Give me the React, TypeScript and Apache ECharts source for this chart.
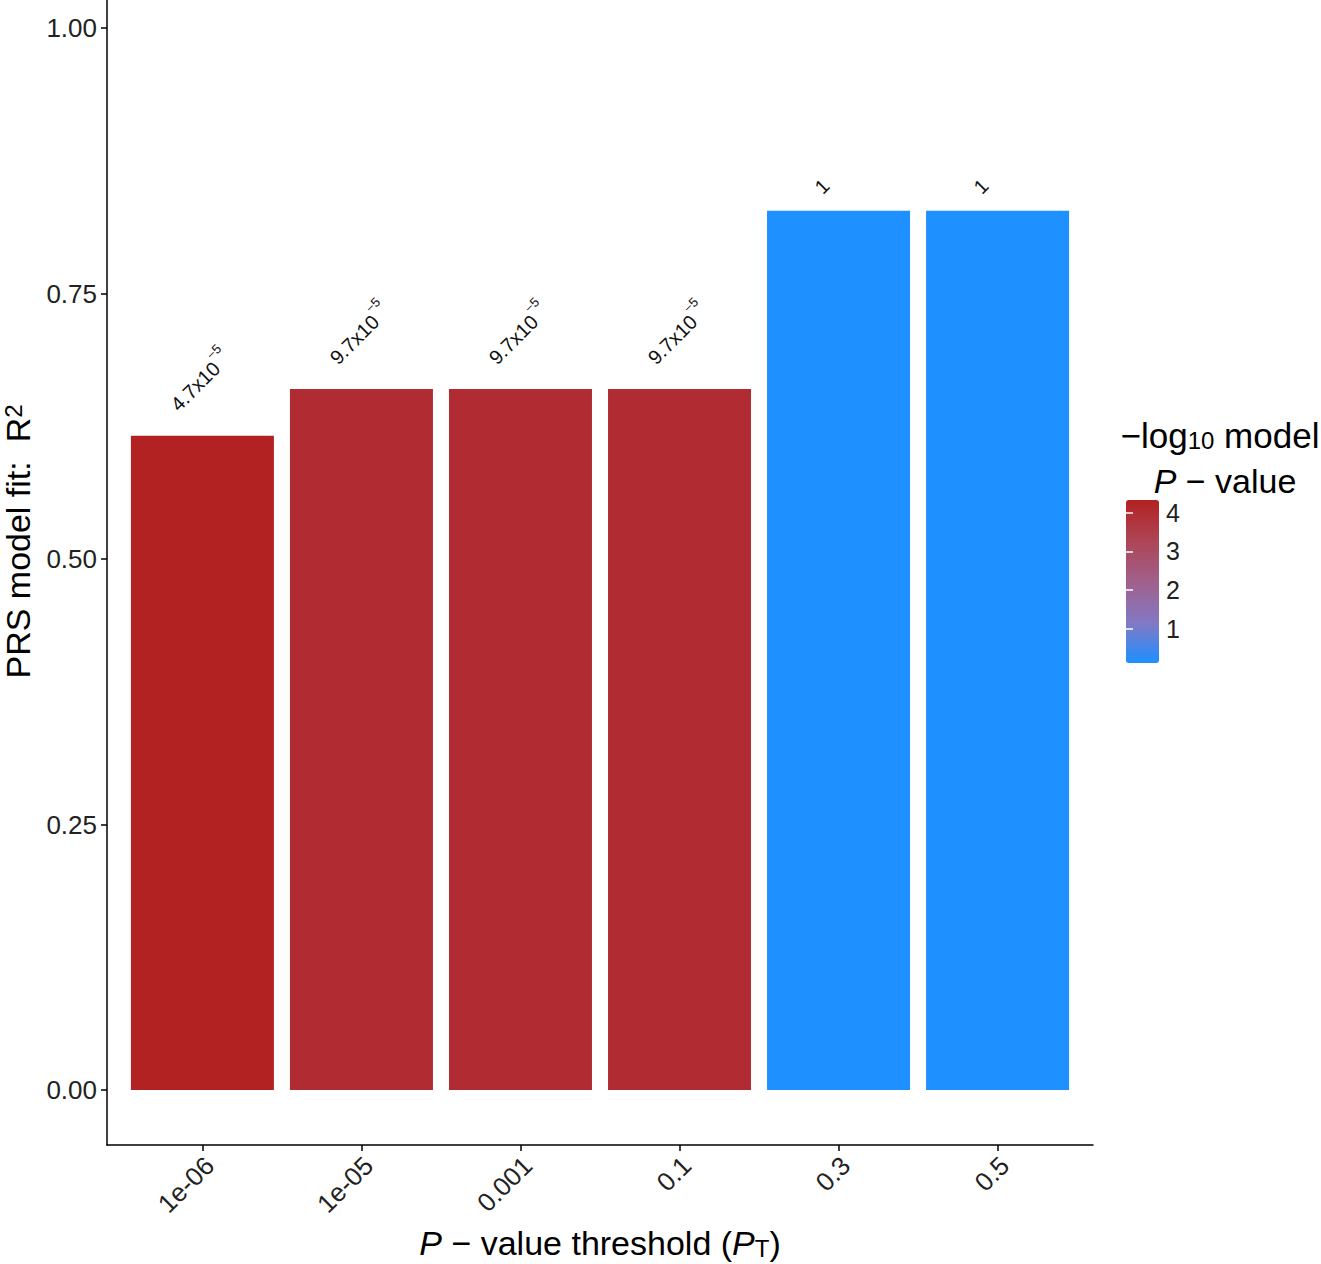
import React, { useEffect, useRef } from "react";
import * as echarts from "echarts";

// ---- data ----
const thresholds = ["1e-06", "1e-05", "0.001", "0.1", "0.3", "0.5"];
const r2Values = [0.616, 0.66, 0.66, 0.66, 0.828, 0.828];
const negLog10P = [4.328, 4.013, 4.013, 4.013, 0.12, 0.12];
const pMantissa = ["4.7x10", "9.7x10", "9.7x10", "9.7x10", "1", "1"];
const pExponent = ["\u22125", "\u22125", "\u22125", "\u22125", "", ""];
const yTicks = [0, 0.25, 0.5, 0.75, 1];
const legendTicks = [1, 2, 3, 4];
const gradientColors = ["#1E90FF", "#8378C4", "#A1608B", "#AE4556", "#B22222"];

const FONT = "'Liberation Sans', Arial, Helvetica, sans-serif";
const positions = thresholds.map((_, i) => i + 1);

export default function App() {
  const ref = useRef<HTMLDivElement>(null);

  useEffect(() => {
    if (!ref.current) return;
    const chart = echarts.init(ref.current, undefined, { renderer: "svg" });

    const barData = thresholds.map((_, i) => ({
      value: [positions[i], r2Values[i], negLog10P[i]],
      label: { offset: [0, pExponent[i] ? -30 : -19] },
    }));

    const option: any = {
      animation: false,
      backgroundColor: "#ffffff",
      textStyle: { fontFamily: FONT },
      grid: [
        { left: 107, top: 0, width: 986, height: 1145, outerBoundsMode: "none", containLabel: false },
        { left: 1126, top: 500, width: 33, height: 163, outerBoundsMode: "none", containLabel: false },
      ],
      xAxis: [
        {
          type: "value",
          gridIndex: 0,
          min: 0.4,
          max: 6.6,
          splitLine: { show: false },
          axisLine: { show: true, onZero: false, lineStyle: { color: "#000", width: 1.5 } },
          axisTick: { show: true, customValues: positions, length: 6, lineStyle: { color: "#000", width: 1.5 } },
          axisLabel: {
            customValues: positions,
            rotate: 45,
            formatter: (v: number) => `{t|${thresholds[Math.round(v) - 1] ?? ""}}`,
            fontSize: 26,
            fontFamily: FONT,
            color: "#222",
            margin: 9,
            rich: {
              t: { fontSize: 26, lineHeight: 26, padding: [20, 0, 0, 0], fontFamily: FONT, color: "#222" },
            },
          },
          name: "{i|P}{n| \u2212 value threshold (}{i|P}{sub|T}{n|)}",
          nameLocation: "middle",
          nameGap: 81,
          nameTextStyle: {
            fontSize: 34,
            fontFamily: FONT,
            color: "#000",
            lineHeight: 34,
            rich: {
              n: { fontSize: 34, lineHeight: 34, fontFamily: FONT, color: "#000" },
              i: { fontSize: 34, lineHeight: 34, fontStyle: "italic", fontFamily: FONT, color: "#000" },
              sub: { fontSize: 24, lineHeight: 6, verticalAlign: "bottom", fontFamily: FONT, color: "#000" },
            },
          },
        },
        { type: "value", gridIndex: 1, show: false, min: 0, max: 1 },
      ],
      yAxis: [
        {
          type: "value",
          gridIndex: 0,
          min: -0.0518,
          max: 1.0264,
          splitLine: { show: false },
          axisLine: { show: true, onZero: false, lineStyle: { color: "#000", width: 1.5 } },
          axisTick: { show: true, customValues: yTicks, length: 6, lineStyle: { color: "#000", width: 1.5 } },
          axisLabel: {
            customValues: yTicks,
            formatter: (v: number) => v.toFixed(2),
            fontSize: 26,
            fontFamily: FONT,
            color: "#222",
            margin: 10,
          },
          name: "{n|PRS model fit:  R}{sup|2}",
          nameLocation: "middle",
          nameGap: 65,
          nameTextStyle: {
            fontSize: 34,
            fontFamily: FONT,
            color: "#000",
            lineHeight: 34,
            padding: [0, 0, 0, 62],
            rich: {
              n: { fontSize: 34, lineHeight: 34, fontFamily: FONT, color: "#000" },
              sup: { fontSize: 24, lineHeight: 6, verticalAlign: "top", fontFamily: FONT, color: "#000" },
            },
          },
        },
        {
          type: "value",
          gridIndex: 1,
          min: 0.12,
          max: 4.328,
          position: "right",
          z: 10,
          splitLine: { show: false },
          axisLine: { show: false },
          axisTick: { show: true, inside: true, length: 7, customValues: legendTicks, lineStyle: { color: "#fff", width: 1.5 } },
          axisLabel: { customValues: legendTicks, fontSize: 25, fontFamily: FONT, color: "#222", margin: 7 },
        },
        {
          type: "value",
          gridIndex: 1,
          min: 0.12,
          max: 4.328,
          position: "left",
          z: 10,
          splitLine: { show: false },
          axisLine: { show: false },
          axisTick: { show: true, inside: true, length: 7, customValues: legendTicks, lineStyle: { color: "#fff", width: 1.5 } },
          axisLabel: { show: false },
        },
      ],
      visualMap: {
        type: "continuous",
        min: 0.12,
        max: 4.328,
        dimension: 2,
        seriesIndex: 0,
        calculable: false,
        hoverLink: false,
        orient: "vertical",
        left: 1126,
        top: 500,
        itemWidth: 33,
        itemHeight: 163,
        padding: 0,
        z: 2,
        inRange: { color: gradientColors },
      },
      graphic: [
        {
          type: "text",
          x: 1220,
          y: 435,
          z: 20,
          style: {
            text: "{n|\u2212log}{sub|10}{n| model}",
            align: "center",
            verticalAlign: "middle",
            rich: {
              n: { fontSize: 35, lineHeight: 35, fontFamily: FONT, fill: "#000" },
              sub: { fontSize: 24, lineHeight: 2, verticalAlign: "bottom", fontFamily: FONT, fill: "#000" },
            },
          },
        },
        {
          type: "text",
          x: 1225,
          y: 481,
          z: 20,
          style: {
            text: "{i|P}{n| \u2212 value}",
            align: "center",
            verticalAlign: "middle",
            rich: {
              n: { fontSize: 34, lineHeight: 34, fontFamily: FONT, fill: "#000" },
              i: { fontSize: 34, lineHeight: 34, fontStyle: "italic", fontFamily: FONT, fill: "#000" },
            },
          },
        },
      ],
      series: [
        {
          type: "bar",
          xAxisIndex: 0,
          yAxisIndex: 0,
          barWidth: 143,
          data: barData,
          label: {
            show: true,
            position: "top",
            distance: 0,
            rotate: 45,
            align: "left",
            verticalAlign: "bottom",
            formatter: (p: any) => {
              const i = p.dataIndex;
              return pExponent[i] ? `{m|${pMantissa[i]}}{s|${pExponent[i]}}` : `{m|${pMantissa[i]}}`;
            },
            rich: {
              m: { fontSize: 20, lineHeight: 28, verticalAlign: "bottom", fontFamily: FONT, color: "#111" },
              s: { fontSize: 13, lineHeight: 8, verticalAlign: "top", fontFamily: FONT, color: "#111" },
            },
          },
        },
        {
          type: "line",
          xAxisIndex: 1,
          yAxisIndex: 1,
          data: [],
          silent: true,
        },
      ],
    };

    chart.setOption(option);
    return () => chart.dispose();
  }, []);

  return (
    <div
      ref={ref}
      style={{ position: "absolute", left: 0, top: 0, width: 1321, height: 1264, background: "#fff" }}
    />
  );
}
